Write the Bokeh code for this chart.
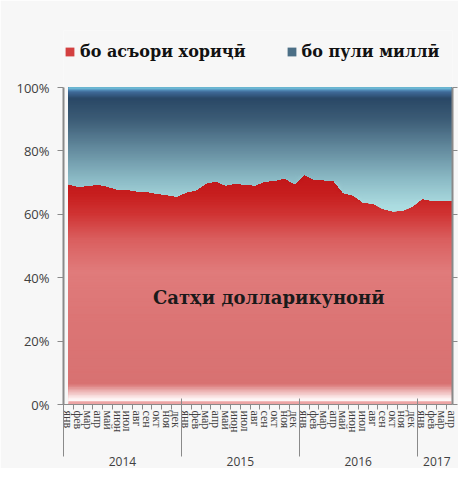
import math
import numpy as np
from bokeh.plotting import figure
from bokeh.models import (Range1d, LinearAxis, FixedTicker, Label, Legend, LegendItem,
                          ColumnDataSource)
from bokeh.embed import file_html
from bokeh.resources import INLINE

# ---------------- data ----------------
years = ["2014", "2015", "2016", "2017"]
months = ["янв", "фев", "мар", "апр", "май", "июн", "июл", "авг", "сен", "окт", "ноя", "дек"]
months_per_year = [12, 12, 12, 4]

# share of deposits in foreign currency (%), Jan 2014 - Apr 2017
foreign_share = [
    69.6, 68.8, 69.0, 69.5, 68.8, 67.8, 67.8, 67.3, 67.1, 66.6, 66.2, 65.6,   # 2014
    67.0, 67.7, 69.8, 70.4, 69.2, 69.7, 69.4, 69.2, 70.4, 70.6, 71.5, 69.6,   # 2015
    72.5, 71.1, 70.8, 70.6, 66.7, 66.0, 63.7, 63.4, 61.8, 61.0, 61.1, 62.5,   # 2016
    64.9, 64.4, 64.4, 64.2,                                                   # 2017
]
total_share = 100.0

legend_labels = ["бо асъори хориҷӣ", "бо пули миллӣ"]
y_ticks = [0, 20, 40, 60, 80, 100]
y_tick_labels = ["0%", "20%", "40%", "60%", "80%", "100%"]
annotation_text = "Сатҳи долларикунонӣ"

# ---------------- derived positions ----------------
n = len(foreign_share)
x_idx = np.arange(n, dtype=float)
month_labels = [m for k in months_per_year for m in months[:k]]
starts = np.cumsum([0] + months_per_year[:-1])
year_centers = [float(s + (k - 1) / 2) for s, k in zip(starts, months_per_year)]
year_bounds = [float(s - 0.5) for s in starts]
red = np.array(foreign_share)

red_stops = [(0.0, "#eca4a4"), (0.8, "#eca4a4"), (1.3, "#ffffff"), (2.2, "#fbe8e8"),
             (4.0, "#eebaba"), (6.5, "#d87272"), (25, "#db7474"), (42, "#e07b7b"),
             (52, "#da5f5f"), (60, "#d03434"), (66, "#c71f1f"), (73, "#c01418")]
blue_stops = [(58, "#b4e4e6"), (63, "#aadbdf"), (72, "#88b6c2"), (82, "#5e8498"),
              (90, "#3c5c76"), (96.5, "#2a4866"), (98.6, "#3f6a98"), (99.4, "#5a9ac4"),
              (100, "#80d8e4")]


def hex2rgb(h):
    return [int(h[i:i + 2], 16) for i in (1, 3, 5)]


def grad(stops, v):
    xs = [s for s, _ in stops]
    rgbs = np.array([hex2rgb(c) for _, c in stops], dtype=float)
    rgb = [int(round(np.interp(v, xs, rgbs[:, k]))) for k in range(3)]
    return "#%02x%02x%02x" % tuple(rgb)


# gradient bands as polygons (one patches renderer)
xs_list, ys_list, colors = [], [], []
step = 0.5
red_his = np.arange(step, red.max() + step, step)[::-1]
for hi in red_his:                                             # red: top band first
    top = np.minimum(red, hi)
    xs_list.append(np.concatenate([x_idx, x_idx[::-1]]))
    ys_list.append(np.concatenate([top, np.zeros(n)]))
    colors.append(grad(red_stops, hi - step / 2))
red_legend_index = int(np.argmin(np.abs(red_his - 58)))
blue_start = len(colors)
blue_los = np.arange(red.min() - 3, total_share, 0.25)
for lo in blue_los:                                            # blue: bottom band first
    bottom = np.maximum(red, lo)
    xs_list.append(np.concatenate([x_idx, x_idx[::-1]]))
    ys_list.append(np.concatenate([np.full(n, total_share), bottom[::-1]]))
    colors.append(grad(blue_stops, lo + 0.125))
blue_legend_index = blue_start + int(np.argmin(np.abs(blue_los - 86)))

src = ColumnDataSource(dict(xs=xs_list, ys=ys_list, color=colors))

# ---------------- figure ----------------
bg = "#f7f7f7"
p = figure(frame_width=389, frame_height=374,
           x_range=Range1d(-0.5, n - 1 + 0.1), y_range=Range1d(0, 118),
           output_backend="svg", toolbar_location=None,
           background_fill_color=bg, border_fill_color=bg, outline_line_color=None,
           min_border_left=63, min_border_right=6, min_border_top=30, min_border_bottom=10)
p.xgrid.visible = False
p.ygrid.visible = False

r = p.patches("xs", "ys", source=src, fill_color="color", line_color=None)

legend = Legend(items=[LegendItem(label=legend_labels[0], renderers=[r], index=red_legend_index),
                       LegendItem(label=legend_labels[1], renderers=[r], index=blue_legend_index)],
                orientation="horizontal", location=(1, 343),
                label_text_font="DejaVu Serif", label_text_font_style="bold",
                label_text_font_size="16px", label_text_color="#111111",
                glyph_width=11, glyph_height=11, label_standoff=5, spacing=40,
                background_fill_alpha=0, border_line_color=None, padding=4, margin=0)
p.add_layout(legend, "center")

p.add_layout(Label(x=20.4, y=33.8, text=annotation_text, text_align="center",
                   text_baseline="middle", text_font="DejaVu Serif",
                   text_font_style="bold", text_font_size="18px", text_color="#1a1a1a"))

# ---------------- axes ----------------
axis_grey = "#8a8a8a"
xa = p.xaxis[0]
xa.ticker = FixedTicker(ticks=list(x_idx), minor_ticks=list(x_idx[:-1] + 0.5))
xa.major_label_overrides = {float(i): lab for i, lab in zip(x_idx, month_labels)}
xa.axis_line_color = axis_grey
xa.major_tick_line_color = None
xa.major_tick_in = 0
xa.major_tick_out = 5
xa.minor_tick_line_color = axis_grey
xa.minor_tick_in = 0
xa.minor_tick_out = 5
xa.major_label_orientation = -math.pi / 2
xa.major_label_text_font = "Liberation Serif"
xa.major_label_text_font_size = "12px"
xa.major_label_text_color = "#404040"
xa.major_label_standoff = 1

year_axis = LinearAxis(ticker=FixedTicker(ticks=year_centers, minor_ticks=year_bounds),
                       major_label_overrides={c: y for c, y in zip(year_centers, years)},
                       axis_line_color=None, major_tick_line_color=None,
                       major_tick_in=0, major_tick_out=10,
                       minor_tick_line_color=axis_grey, minor_tick_in=37, minor_tick_out=21,
                       major_label_standoff=0,
                       major_label_text_font="Open Sans", major_label_text_font_size="12px",
                       major_label_text_color="#404040")
p.add_layout(year_axis, "below")

ya = p.yaxis[0]
ya.ticker = FixedTicker(ticks=y_ticks)
ya.bounds = (0, 100)
ya.major_label_overrides = dict(zip(y_ticks, y_tick_labels))
ya.axis_line_color = axis_grey
ya.axis_line_width = 2
ya.major_tick_line_color = axis_grey
ya.major_tick_in = 0
ya.major_tick_out = 6
ya.minor_tick_line_color = None
ya.major_label_text_font = "Open Sans"
ya.major_label_text_font_size = "13px"
ya.major_label_text_color = "#404040"
ya.major_label_standoff = 8

ra = LinearAxis(ticker=FixedTicker(ticks=y_ticks), bounds=(0, 100),
                major_label_overrides={t: "" for t in y_ticks},
                axis_line_color=axis_grey, axis_line_width=2,
                major_tick_line_color=axis_grey, major_tick_in=0, major_tick_out=5,
                minor_tick_line_color=None, major_label_standoff=0)
p.add_layout(ra, "right")

open("out.html", "w").write(file_html(p, INLINE))
